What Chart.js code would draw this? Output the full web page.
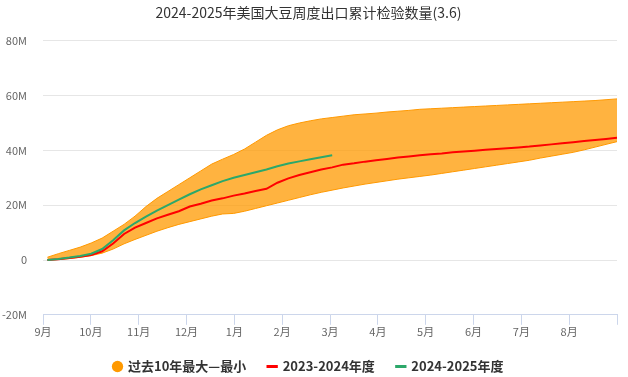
<!DOCTYPE html>
<html>
<head>
<meta charset="utf-8">
<script src="https://cdn.jsdelivr.net/npm/chart.js@4.4.1/dist/chart.umd.min.js"></script>
<style>
  html, body { margin: 0; padding: 0; background: #fff; }
  #wrap { width: 628px; height: 377px; }
</style>
</head>
<body>
<div id="wrap"><canvas id="exportChart"></canvas></div>
<script>
// month labels along the x axis (season starts in September)
const monthLabels = ["9月", "10月", "11月", "12月", "1月", "2月", "3月", "4月", "5月", "6月", "7月", "8月", ""];
const yTicks = [-20, 0, 20, 40, 60, 80];

// weekly cumulative inspections, million tonnes (week 0 = first week of Sept)
const bandMax = [1, 2.3, 3.5, 4.7, 6.2, 8, 10.5, 13, 16, 19.5, 22.5, 25, 27.5, 30, 32.5, 35, 36.8, 38.5,
  40.5, 43, 45.5, 47.5, 49, 50, 50.8, 51.5, 52, 52.5, 53, 53.3, 53.6, 54, 54.3, 54.6, 55, 55.2, 55.4,
  55.6, 55.8, 56, 56.2, 56.4, 56.6, 56.8, 57, 57.2, 57.4, 57.6, 57.8, 58, 58.2, 58.5, 58.8];
const bandMin = [0, 0.2, 0.5, 1, 1.6, 2.5, 4, 5.9, 7.5, 9, 10.5, 11.8, 13, 14, 15, 16, 16.8, 17,
  17.8, 18.8, 19.8, 20.8, 21.8, 22.8, 23.8, 24.7, 25.5, 26.3, 27, 27.7, 28.3, 28.9, 29.5, 30, 30.5, 31, 31.6,
  32.2, 32.8, 33.4, 34, 34.6, 35.2, 35.8, 36.4, 37.2, 37.9, 38.6, 39.3, 40.2, 41.2, 42.2, 43.2, 44.3];
const season2324 = [0, 0.3, 0.7, 1.2, 1.8, 3.2, 6, 9.5, 11.8, 13.5, 15.2, 16.5, 17.8, 19.5, 20.5, 21.7, 22.5, 23.5,
  24.3, 25.2, 26, 28.2, 29.8, 31, 32, 33, 33.8, 34.8, 35.3, 35.9, 36.4, 36.9, 37.4, 37.8, 38.2, 38.6, 38.9,
  39.3, 39.6, 39.9, 40.2, 40.5, 40.8, 41.1, 41.4, 41.8, 42.2, 42.6, 43, 43.4, 43.8, 44.2, 44.6];
const season2425 = [0, 0.4, 0.9, 1.5, 2.3, 4, 7.2, 10.8, 13.5, 15.8, 18, 20, 22, 24, 25.8, 27.3, 28.8, 30,
  31, 32, 33, 34.2, 35.2, 36, 36.8, 37.5, 38.2];

const toPoints = (arr) => arr.map((v, i) => ({ x: i, y: v }));

const ctx = document.getElementById("exportChart").getContext("2d");
const fontFamily = "'Noto Sans CJK SC', 'Noto Sans', sans-serif";

const chart = new Chart(ctx, {
  type: "line",
  data: {
    datasets: [
      {
        label: "过去10年最大—最小",
        data: toPoints(bandMax),
        borderColor: "#ff9900",
        borderWidth: 1,
        backgroundColor: "rgba(255,153,0,0.75)",
        fill: 1,
        pointRadius: 0,
        pointStyle: "circle",
        order: 3
      },
      {
        label: "min",
        data: toPoints(bandMin),
        borderColor: "#ff9900",
        borderWidth: 1,
        backgroundColor: "rgba(255,153,0,0.75)",
        fill: false,
        pointRadius: 0,
        order: 4
      },
      {
        label: "2023-2024年度",
        data: toPoints(season2324),
        borderColor: "#ff0000",
        backgroundColor: "#ff0000",
        borderWidth: 2,
        fill: false,
        pointRadius: 0,
        order: 2
      },
      {
        label: "2024-2025年度",
        data: toPoints(season2425),
        borderColor: "#2ca86a",
        backgroundColor: "#2ca86a",
        borderWidth: 2,
        fill: false,
        pointRadius: 0,
        order: 1
      }
    ]
  },
  options: {
    responsive: true,
    maintainAspectRatio: false,
    animation: false,
    layout: { padding: { left: 0, right: 11, top: 0, bottom: -6 } },
    plugins: {
      title: {
        display: true,
        text: "2024-2025年美国大豆周度出口累计检验数量(3.6)",
        color: "#333",
        font: { family: fontFamily, size: 14, weight: "normal" },
        padding: { top: 4, bottom: 20 }
      },
      legend: {
        position: "bottom",
        labels: {
          usePointStyle: true,
          boxWidth: 8,
          boxHeight: 8,
          padding: 22,
          color: "#333",
          font: { family: fontFamily, size: 13, weight: "bold" },
          filter: (item) => item.datasetIndex !== 1,
          sort: (a, b) => a.datasetIndex - b.datasetIndex,
          generateLabels: (chart) => {
            const items = Chart.defaults.plugins.legend.labels.generateLabels(chart);
            items.forEach((it) => {
              if (it.datasetIndex === 0) {
                it.pointStyle = "circle";
                it.fillStyle = "#ff9900";
                it.strokeStyle = "#ff9900";
                it.lineWidth = 0;
              } else {
                it.pointStyle = "line";
                it.lineWidth = 3;
              }
            });
            return items;
          }
        }
      },
      tooltip: { enabled: false }
    },
    scales: {
      x: {
        type: "linear",
        min: -0.4,
        max: 52,
        afterBuildTicks: (axis) => {
          axis.ticks = monthLabels.map((m, i) => ({ value: -0.4 + i * 52.4 / 12 }));
        },
        ticks: {
          autoSkip: false,
          maxRotation: 0,
          color: "#666",
          padding: 0,
          font: { family: fontFamily, size: 11 },
          callback: (v, i) => monthLabels[i]
        },
        grid: {
          drawOnChartArea: false,
          drawTicks: true,
          tickLength: 10,
          color: "#ccd6eb"
        },
        border: { color: "#ccd6eb" }
      },
      y: {
        min: -20,
        max: 80,
        afterBuildTicks: (axis) => {
          axis.ticks = yTicks.map((v) => ({ value: v }));
        },
        afterFit: (axis) => { axis.width = 43; },
        ticks: {
          color: "#666",
          padding: 16,
          font: { family: fontFamily, size: 11 },
          callback: (v) => (v === 0 ? "0" : v + "M")
        },
        grid: { color: "#e6e6e6", drawTicks: false },
        border: { display: false }
      }
    }
  }
});
</script>
</body>
</html>
